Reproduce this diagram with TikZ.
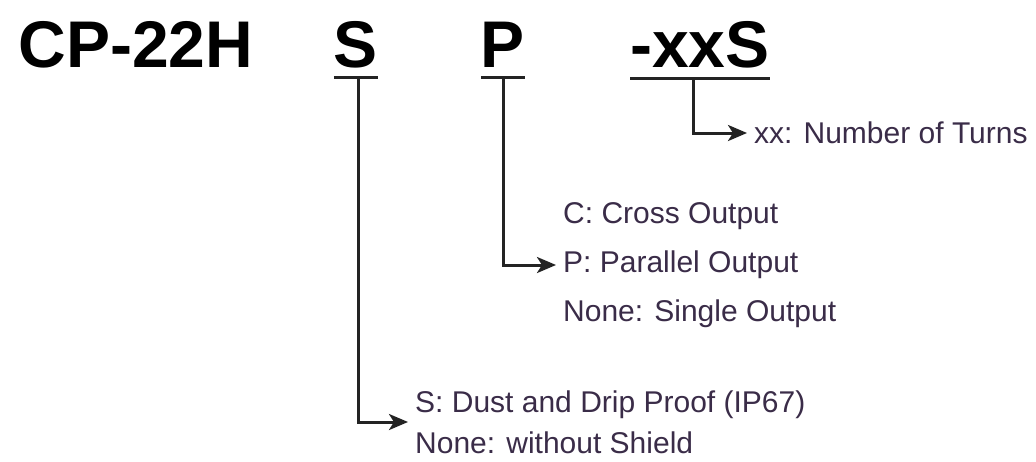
\documentclass[tikz,border=0pt]{standalone}
\usepackage{fontspec}
\setmainfont{Liberation Sans}
\usetikzlibrary{arrows.meta}
\definecolor{inkline}{RGB}{35,35,35}
\definecolor{inktext}{RGB}{58,44,72}
\tikzset{
  code/.style={inner sep=0pt, anchor=base, font=\fontsize{66}{70}\selectfont\bfseries},
  opts/.style={anchor=west, align=left, inner sep=7pt, text=inktext},
  uline/.style={draw=inkline, line width=2.8pt},
  pick/.style={draw=inkline, line width=3pt, -{Stealth[length=19pt,width=16pt,inset=5pt]}}
}
\begin{document}
\begin{tikzpicture}[x=1pt,y=-1pt]
\useasboundingbox (0,0) rectangle (1036,461);
\node[code] (cp) at (136,67) {CP-22H};
\node[code] (s) at (356,67) {S};
\node[code] (p) at (503,67) {P};
\node[code] (xx) at (700,67) {-xxS};
\draw[uline] ([yshift=-10pt]s.south west) -- coordinate[pos=0.55] (s0) ([yshift=-10pt]s.south east);
\draw[uline] ([yshift=-10pt]p.south west) -- coordinate[pos=0.5] (p0) ([yshift=-10pt]p.south east);
\draw[uline] ([yshift=-11pt]xx.south west) -- coordinate[pos=0.45] (x0) ([yshift=-11pt]xx.south east);
\node[opts, font=\fontsize{30}{36}\selectfont] (xt) at (747,133) {xx: Number of Turns};
\node[opts, font=\fontsize{30}{49}\selectfont] (pt) at (556,265) {C: Cross Output\\P: Parallel Output\\None: Single Output};
\node[opts, font=\fontsize{30}{41}\selectfont] (st) at (408,422) {S: Dust and Drip Proof (IP67)\\None: without Shield};
\draw[pick] (x0) |- (xt.west);
\draw[pick] (p0) |- (pt.west);
\draw[pick] (s0) |- (st.west);
\end{tikzpicture}
\end{document}
